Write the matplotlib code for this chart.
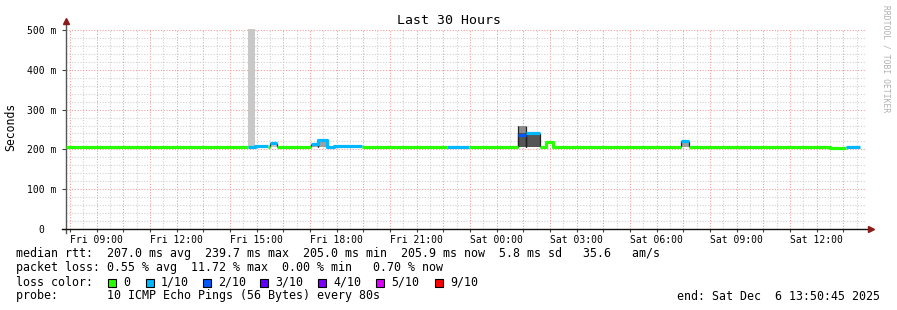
import matplotlib.pyplot as plt
from matplotlib.patches import Rectangle

# time axis in hours since Fri 00:00, values in ms
t_start = 7.8458   # Fri 07:50:45
t_end = 37.8458    # Sat 13:50:45

# median rtt, step segments
seg_start = [7.85, 14.67, 14.93, 15.42, 15.50, 15.76, 17.03, 17.30, 17.63, 17.90, 18.95,
             22.13, 22.96, 24.80, 25.10, 25.62, 25.85, 26.11, 30.91, 31.21, 36.49, 37.09]
seg_stop = seg_start[1:] + [37.62]
median_ms = [205, 206, 208, 205, 217, 205, 213, 223, 207, 209, 205,
             205, 205, 235, 240, 205, 218, 205, 220, 205, 203, 205]
loss = [0, 1, 1, 0, 1, 0, 1, 1, 1, 1, 0,
        1, 0, 2, 1, 0, 0, 0, 1, 0, 0, 1]

# smoke (ping spread)
smoke_start = [14.67, 15.50, 17.03, 17.30, 24.80, 24.80, 25.10, 30.91]
smoke_stop = [14.93, 15.76, 17.30, 17.63, 25.10, 25.10, 25.62, 31.21]
smoke_lo = [205, 205, 205, 205, 205, 205, 205, 205]
smoke_hi = [520, 217, 213, 223, 259, 241, 240, 220]
smoke_grey = ['#c8c8c8', '#c8c8c8', '#a8a8a8', '#a0a0a0', '#8c8c8c', '#555555', '#555555', '#a0a0a0']

loss_labels = ['0', '1/10', '2/10', '3/10', '4/10', '5/10', '9/10']
loss_colors = ['#26ff00', '#00b8ff', '#0059ff', '#5e00ff', '#7e00ff', '#dd00ff', '#ff0000']

tick_hours = [9, 12, 15, 18, 21, 24, 27, 30, 33, 36]
tick_labels = ['Fri 09:00', 'Fri 12:00', 'Fri 15:00', 'Fri 18:00', 'Fri 21:00',
               'Sat 00:00', 'Sat 03:00', 'Sat 06:00', 'Sat 09:00', 'Sat 12:00']

W, H = 897, 310
mono = 'DejaVu Sans Mono'
fig = plt.figure(figsize=(W / 100, H / 100), dpi=100)
fig.patch.set_facecolor('white')
ax = fig.add_axes([66 / W, 81 / H, 800 / W, 200 / H])
ax.set_xlim(t_start, t_end)
ax.set_ylim(0, 502.5)

# grid
for h in range(8, 38):
    ax.axvline(h, color='#f4a0a0', lw=0.8, ls=(0, (1, 1.5)), zorder=1)
    ax.axvline(h + 0.5, color='#d0d0d0', lw=0.8, ls=(0, (1, 1.5)), zorder=1)
for v in range(0, 520, 20):
    if v % 100 == 0:
        ax.axhline(v, color='#f4a0a0', lw=0.8, ls=(0, (1, 1.5)), zorder=1)
    else:
        ax.axhline(v, color='#d0d0d0', lw=0.8, ls=(0, (1, 1.5)), zorder=1)

# smoke
for s, e, lo, hi, g in zip(smoke_start, smoke_stop, smoke_lo, smoke_hi, smoke_grey):
    ax.fill_between([s, e], lo, hi, color=g, lw=0, zorder=2)
for s, e, hi in zip(smoke_start, smoke_stop, smoke_hi):
    if hi < 500:
        ax.vlines([s, e], 205, hi, color='#222222', lw=0.9, zorder=3)

# median line, one run per contiguous loss colour
i = 0
while i < len(seg_start):
    j = i
    while j + 1 < len(seg_start) and loss[j + 1] == loss[i]:
        j += 1
    xs = seg_start[i:j + 1] + [seg_stop[j]]
    ys = median_ms[i:j + 1] + [median_ms[j]]
    ax.step(xs, ys, where='post', color=loss_colors[loss[i]], lw=2.3, zorder=4,
            solid_capstyle='butt')
    i = j + 1

# axes decoration
for sp in ax.spines.values():
    sp.set_visible(False)
ax.plot([0, 0], [-0.02, 1.025], transform=ax.transAxes, color='#555555', lw=1, clip_on=False)
ax.plot([-0.005, 1.003], [0, 0], transform=ax.transAxes, color='#111111', lw=1, clip_on=False)
ax.plot([0], [1.04], transform=ax.transAxes, marker='^', color='#8b1a1a', ms=4, clip_on=False)
ax.plot([1.006], [0], transform=ax.transAxes, marker='>', color='#8b1a1a', ms=4, clip_on=False)

ax.set_xticks(range(8, 38))
ax.set_xticklabels([tick_labels[tick_hours.index(h)] if h in tick_hours else '' for h in range(8, 38)],
                   family=mono, fontsize=7)
ax.tick_params(axis='x', length=2, width=0.8, color='#444444', pad=2)
ax.set_yticks([0, 100, 200, 300, 400, 500])
ax.set_yticklabels(['0  ', '100 m', '200 m', '300 m', '400 m', '500 m'], family=mono, fontsize=7)
ax.tick_params(axis='y', length=3, width=0.8, color='#444444', pad=4)

fig.text(0.5, 1 - 20 / H, 'Last 30 Hours', ha='center', va='center', family=mono, fontsize=9.5)
fig.text(11 / W, 1 - 127 / H, 'Seconds', ha='center', va='center', rotation=90,
         family=mono, fontsize=8.3)
fig.text(886 / W, 1 - 5 / H, 'RRDTOOL / TOBI OETIKER', ha='center', va='top', rotation=270,
         family=mono, fontsize=5.8, color='#b0b0b0')

# legend
lx = 16 / W
fs = 8.4
fig.text(lx, 1 - 254 / H,
         'median rtt:  207.0 ms avg  239.7 ms max  205.0 ms min  205.9 ms now  5.8 ms sd   35.6   am/s',
         va='center', family=mono, fontsize=fs)
fig.text(lx, 1 - 268 / H,
         'packet loss: 0.55 % avg  11.72 % max  0.00 % min   0.70 % now',
         va='center', family=mono, fontsize=fs)
fig.text(lx, 1 - 282 / H, 'loss color:', va='center', family=mono, fontsize=fs)
box_x = [108, 146, 203, 260, 318, 376, 435]
for bx, lab, col in zip(box_x, loss_labels, loss_colors):
    fig.add_artist(Rectangle((bx / W, 1 - 286.5 / H), 8 / W, 8 / H, transform=fig.transFigure,
                             facecolor=col, edgecolor='black', lw=0.8))
    fig.text((bx + 15) / W, 1 - 282 / H, lab, va='center', family=mono, fontsize=fs)
fig.text(lx, 1 - 296 / H, 'probe:       10 ICMP Echo Pings (56 Bytes) every 80s',
         va='center', family=mono, fontsize=fs)
fig.text(880 / W, 1 - 296 / H, 'end: Sat Dec  6 13:50:45 2025', ha='right', va='center',
         family=mono, fontsize=fs)

fig.savefig('out.png', dpi=100)
